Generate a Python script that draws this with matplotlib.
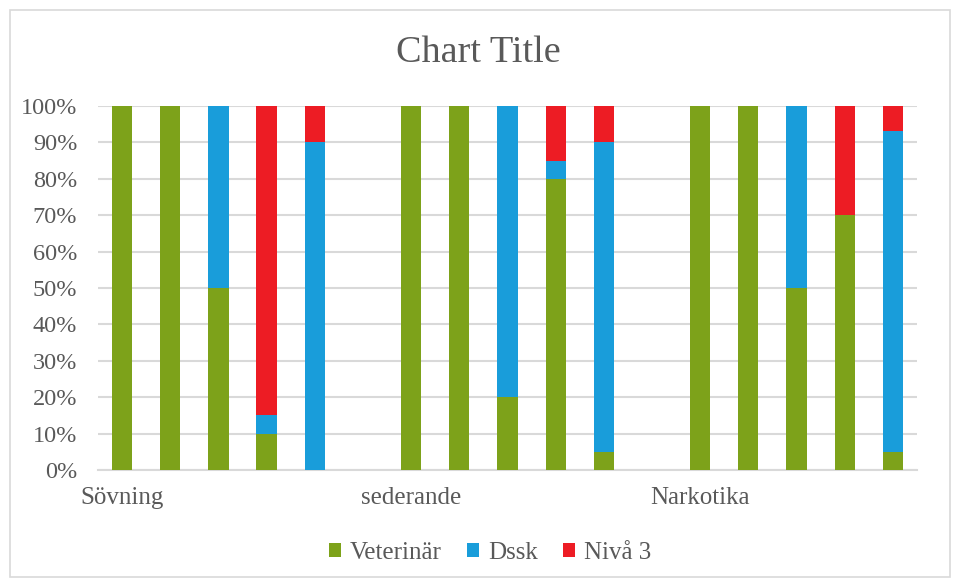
import numpy as np
import matplotlib
matplotlib.use("Agg")
import matplotlib.pyplot as plt
from matplotlib.patches import Rectangle
from matplotlib.ticker import PercentFormatter

# data (percent shares, 5 bars per group)
grupper = ["Sövning", "sederande", "Narkotika"]
veterinar = [100, 100, 50, 10, 0,
             100, 100, 20, 80, 5,
             100, 100, 50, 70, 5]
dssk = [0, 0, 50, 5, 90,
        0, 0, 80, 5, 85,
        0, 0, 50, 0, 88]
niva3 = [0, 0, 0, 85, 10,
         0, 0, 0, 15, 10,
         0, 0, 0, 30, 7]
serier = ["Veterinär", "Dssk", "Nivå 3"]
farger = ["#7DA21A", "#199DDA", "#ED1C24"]

plt.rcParams['font.family'] = ['Liberation Serif', 'DejaVu Serif']

fig = plt.figure(figsize=(9.57, 5.81), dpi=100)
ax = fig.add_axes([0.1024, 0.191, 0.8558, 0.6266])

n_per_grupp = 5
x = np.array([g * (n_per_grupp + 1) + b for g in range(len(grupper)) for b in range(n_per_grupp)])

v = np.array(veterinar, dtype=float)
d = np.array(dssk, dtype=float)
n = np.array(niva3, dtype=float)
bredd = 0.42
ax.bar(x, v, bredd, color=farger[0], label=serier[0], zorder=3)
ax.bar(x, d, bredd, bottom=v, color=farger[1], label=serier[1], zorder=3)
ax.bar(x, n, bredd, bottom=v + d, color=farger[2], label=serier[2], zorder=3)

ax.set_xlim(-0.5, len(grupper) * (n_per_grupp + 1) - 1.5)
ax.set_ylim(0, 100)
ax.set_yticks(np.arange(0, 101, 10))
ax.yaxis.set_major_formatter(PercentFormatter(decimals=0))
ax.set_xticks([g * (n_per_grupp + 1) for g in range(len(grupper))])
ax.set_xticklabels(grupper)

ax.grid(axis='y', color='#D9D9D9', lw=1.5, zorder=0)
for s in ['top', 'right', 'left']:
    ax.spines[s].set_visible(False)
ax.spines['bottom'].set_color('#D9D9D9')
ax.spines['bottom'].set_linewidth(1.5)
ax.tick_params(axis='y', length=0, labelsize=17.5, colors='#595959', pad=15)
ax.tick_params(axis='x', length=0, labelsize=18, colors='#595959', pad=12)

fig.text(0.5, 0.91, "Chart Title", ha='center', va='center', fontsize=27.5, color='#595959')

leg = fig.legend(loc='center', bbox_to_anchor=(0.512, 0.048), ncol=3, frameon=False,
                 fontsize=18, handlelength=0.5, handleheight=0.5, handletextpad=0.35,
                 columnspacing=1.0)
for t in leg.get_texts():
    t.set_color('#595959')

fig.patches.append(Rectangle((10 / 957, 4 / 581), 940 / 957, 567 / 581, transform=fig.transFigure,
                             fill=False, edgecolor='#D9D9D9', lw=1.2))

fig.savefig("out.png", dpi=100)
